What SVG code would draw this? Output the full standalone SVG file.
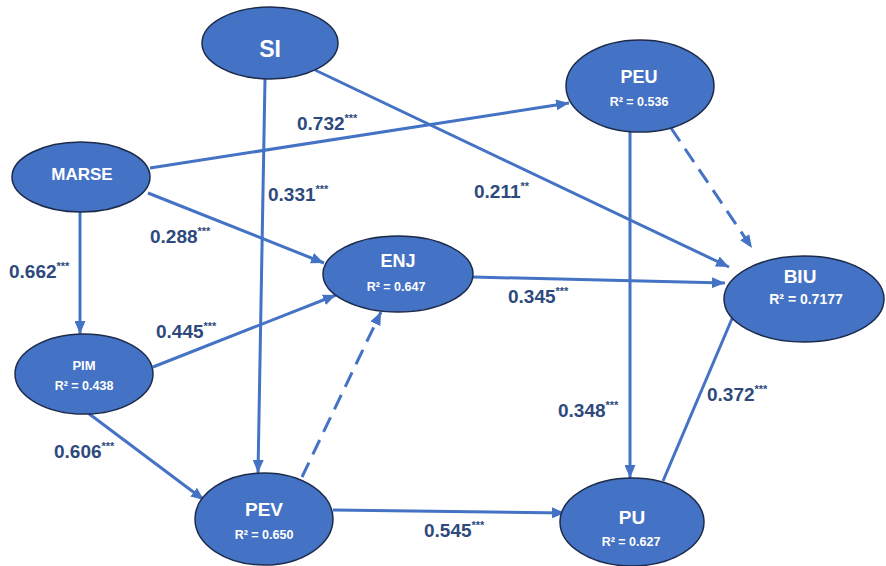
<svg xmlns="http://www.w3.org/2000/svg" width="886" height="566" viewBox="0 0 886 566">
<style>
.nd{fill:#4472C4;stroke:#1C2B4A;stroke-width:1.5}
.nt{font-family:"Liberation Sans",Arial,sans-serif;font-weight:bold;fill:#FFFFFF;text-anchor:middle}
.c{stroke:#4472C4;stroke-width:3;fill:none}
.a{marker-end:url(#ah)}
.d{stroke-dasharray:16 9}
.lb{font-family:"Liberation Sans",Arial,sans-serif;font-weight:bold;font-size:19px;fill:#2E4A7C}
.st{font-size:11px}
</style>
<defs>
<marker id="ah" markerUnits="userSpaceOnUse" markerWidth="13" markerHeight="11" refX="13" refY="5.5" orient="auto">
<path d="M0,0 L13,5.5 L0,11 z" fill="#4472C4"/>
</marker>
</defs>
<rect width="886" height="566" fill="#FFFFFF"/>
<g id="connectors">
<line class="c a" x1="265" y1="79" x2="258" y2="473"/>
<line class="c a" x1="315" y1="70" x2="729" y2="267"/>
<line class="c a" x1="150" y1="168" x2="569" y2="103"/>
<line class="c a" x1="148" y1="193" x2="324" y2="263"/>
<line class="c a" x1="80" y1="212" x2="80" y2="334"/>
<line class="c a" x1="153" y1="367" x2="336" y2="295"/>
<line class="c a" x1="88" y1="413" x2="204" y2="500"/>
<line class="c a d" x1="302" y1="477" x2="381" y2="312"/>
<line class="c a" x1="333" y1="510" x2="565" y2="513"/>
<line class="c a" x1="473" y1="277" x2="725" y2="283"/>
<line class="c a" x1="630" y1="132" x2="630" y2="478"/>
<line class="c a d" x1="671" y1="128" x2="752" y2="248"/>
<line class="c" x1="663" y1="481" x2="734" y2="314"/>
</g>
<g id="labels">
<text class="lb" x="297" y="130">0.732<tspan class="st" dy="-8">***</tspan></text>
<text class="lb" x="268" y="201">0.331<tspan class="st" dy="-8">***</tspan></text>
<text class="lb" x="150" y="243">0.288<tspan class="st" dy="-8">***</tspan></text>
<text class="lb" x="9" y="278">0.662<tspan class="st" dy="-8">***</tspan></text>
<text class="lb" x="474" y="198">0.211<tspan class="st" dy="-8">**</tspan></text>
<text class="lb" x="156" y="338">0.445<tspan class="st" dy="-8">***</tspan></text>
<text class="lb" x="54" y="458">0.606<tspan class="st" dy="-8">***</tspan></text>
<text class="lb" x="508" y="303">0.345<tspan class="st" dy="-8">***</tspan></text>
<text class="lb" x="558" y="417">0.348<tspan class="st" dy="-8">***</tspan></text>
<text class="lb" x="707" y="401">0.372<tspan class="st" dy="-8">***</tspan></text>
<text class="lb" x="424" y="537">0.545<tspan class="st" dy="-8">***</tspan></text>
</g>
<g id="SI">
<ellipse class="nd" cx="270" cy="43" rx="68" ry="36"/>
<text class="nt" x="270" y="57" font-size="23">SI</text>
</g>
<g id="MARSE">
<ellipse class="nd" cx="81" cy="177" rx="69" ry="35"/>
<text class="nt" x="82" y="180" font-size="17">MARSE</text>
</g>
<g id="PEU">
<ellipse class="nd" cx="640" cy="86" rx="74" ry="46"/>
<text class="nt" x="639" y="83" font-size="18">PEU</text>
<text class="nt" x="639" y="106" font-size="12.5">R² = 0.536</text>
</g>
<g id="ENJ">
<ellipse class="nd" cx="398" cy="274" rx="75" ry="38"/>
<text class="nt" x="398" y="267" font-size="18">ENJ</text>
<text class="nt" x="396" y="291" font-size="12.5">R² = 0.647</text>
</g>
<g id="BIU">
<ellipse class="nd" cx="804" cy="299" rx="80" ry="43"/>
<text class="nt" x="800" y="283" font-size="19">BIU</text>
<text class="nt" x="806" y="304" font-size="14">R² = 0.7177</text>
</g>
<g id="PIM">
<ellipse class="nd" cx="84" cy="374" rx="69" ry="40"/>
<text class="nt" x="84" y="370" font-size="13">PIM</text>
<text class="nt" x="84" y="390" font-size="12.5">R² = 0.438</text>
</g>
<g id="PEV">
<ellipse class="nd" cx="264" cy="519" rx="69" ry="46"/>
<text class="nt" x="264" y="516" font-size="19">PEV</text>
<text class="nt" x="264" y="539" font-size="12.5">R² = 0.650</text>
</g>
<g id="PU">
<ellipse class="nd" cx="632" cy="522" rx="72" ry="44"/>
<text class="nt" x="632" y="524" font-size="19">PU</text>
<text class="nt" x="631" y="546" font-size="12.5">R² = 0.627</text>
</g>
</svg>
